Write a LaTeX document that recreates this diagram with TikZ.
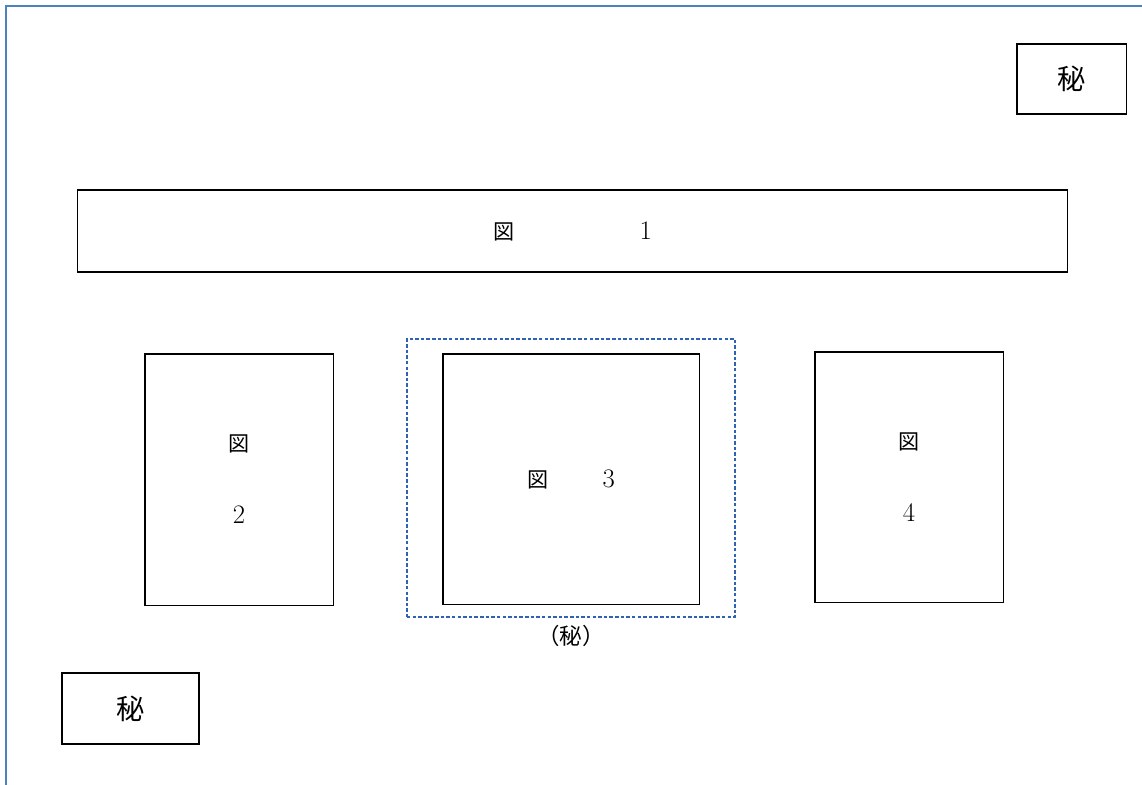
\documentclass[tikz,border=0pt]{standalone}
\usepackage{fontspec}
\newfontfamily\jpfont{Noto Sans CJK JP}
\usepackage{xcolor}
\definecolor{hiframe}{HTML}{4F81BD}
\definecolor{hidashc}{HTML}{2F62B0}
\usepackage{tikz}
\usetikzlibrary{positioning}
\newcommand{\hinum}[1]{{\rmfamily\fontsize{19}{22}\selectfont #1}}
\tikzset{
  hibox/.style={draw,line width=0.75pt,inner sep=0pt,align=center,font=\jpfont\fontsize{15}{18}\selectfont},
  hiseal/.style={draw,line width=0.75pt,inner sep=0pt,font=\jpfont\fontsize{20}{24}\selectfont},
  hidash/.style={draw=hidashc,dash pattern=on 2.5pt off 1.5pt,line width=0.85pt,inner sep=0pt},
  hilabel/.style={font=\jpfont\fontsize{16}{19}\selectfont,inner sep=1pt},
}
\begin{document}
\begin{tikzpicture}[x=0.025cm,y=-0.025cm]
\useasboundingbox (0,0) rectangle (1142,784);
\clip (0,0) rectangle (1142,784);
\draw[hiframe,line width=1.2pt] (6,6) rectangle (1170,810);
\node[hiseal,minimum width=2.725cm,minimum height=1.75cm] (sealtop) at (1071.5,79) {秘};
\node[hibox,minimum width=24.725cm,minimum height=2.05cm] (fig1) at (572.5,231) {図\hspace{3.14cm}\hinum{1}};
\node[hibox,minimum width=4.7cm,minimum height=6.275cm] (fig2) at (239,479.5) {図\\[1.17cm]\hinum{2}};
\node[hidash,minimum width=8.2cm,minimum height=6.95cm] (secret) at (571,478) {};
\node[hibox,minimum width=6.4cm,minimum height=6.25cm] (fig3) at (571,479) {図\hspace{1.365cm}\hinum{3}};
\node[hibox,minimum width=4.7cm,minimum height=6.25cm] (fig4) at (909,477) {図\\[1.17cm]\hinum{4}};
\node[hilabel,below=1.5mm of secret] (secretlbl) {（秘）};
\node[hiseal,minimum width=3.425cm,minimum height=1.775cm] (sealbottom) at (130.5,708.5) {秘};
\end{tikzpicture}
\end{document}
